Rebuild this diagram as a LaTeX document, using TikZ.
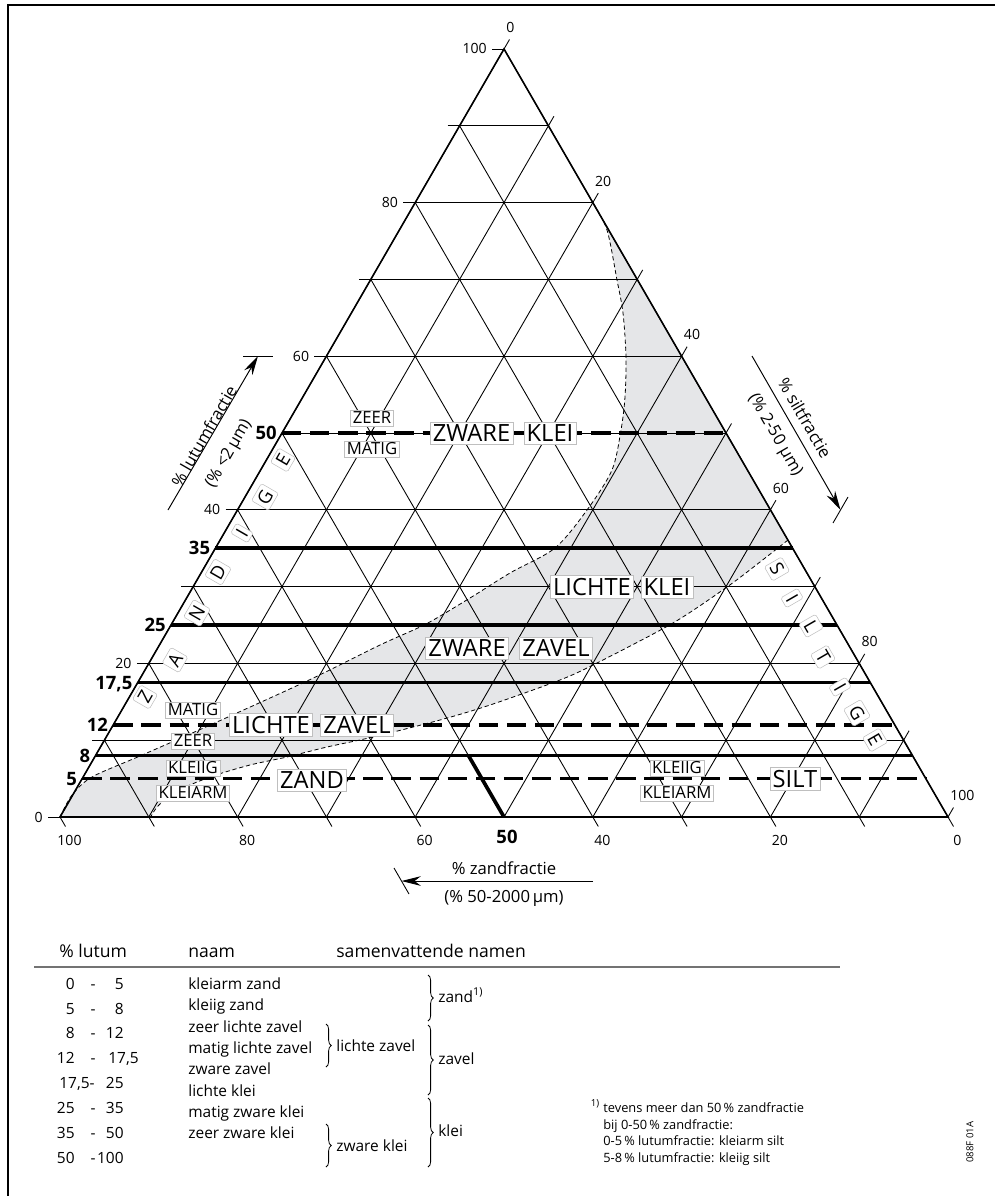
\documentclass[tikz,border=0pt]{standalone}
\usepackage{fontspec}
\setmainfont{Open Sans}
\usetikzlibrary{arrows.meta,decorations.pathreplacing}

\definecolor{bandgrijs}{RGB}{229,230,232}

\begin{document}
\begin{tikzpicture}[
    x=0.02cm, y=-0.02cm,
    raster/.style={line width=0.5pt},
    omtrek/.style={line width=0.9pt, line join=miter},
    klasse/.style={line width=2.1pt},
    klassestreep/.style={line width=2.1pt, dash pattern=on 11pt off 5pt},
    grens/.style={line width=0.45pt, dash pattern=on 2.4pt off 1.6pt},
    schaal/.style={font=\fontsize{8}{9}\selectfont, inner sep=0pt},
    vet/.style={font=\fontsize{10.5}{12}\selectfont\bfseries, inner sep=0pt},
    groot/.style={fill=white, draw=black!25, line width=0.3pt, inner sep=1.5pt, font=\fontsize{13.5}{15}\selectfont},
    klein/.style={fill=white, draw=black!25, line width=0.3pt, inner sep=1.2pt, font=\fontsize{9.5}{11}\selectfont},
    letter/.style={klein, rounded corners=1pt, inner sep=1.8pt, font=\fontsize{10.5}{12}\selectfont},
    pijl/.style={-{Stealth[length=11pt, width=5.5pt]}, line width=0.55pt},
    astekst/.style={font=\fontsize{9.5}{11}\selectfont},
    tabel/.style={font=\fontsize{8.8}{10}\selectfont, inner sep=0pt},
    kop/.style={font=\fontsize{10}{12}\selectfont, inner sep=0pt},
    noot/.style={font=\fontsize{7.3}{9}\selectfont, inner sep=0pt},
    accolade/.style={decorate, decoration={brace, amplitude=3pt}, line width=0.45pt}
]
\useasboundingbox (0,0) rectangle (995,1196);

% Frame
\draw[line width=1.1pt] (8,1196) -- (8,5) -- (995,5);

% Corners of the triangle
\coordinate (hoekZand) at (60,817);
\coordinate (hoekSilt) at (948,817);
\coordinate (hoekLutum) at (504,49);

% Grey band between the two boundary curves
\fill[bandgrijs] plot[smooth, tension=0.5] coordinates {(60,817) (72,795) (92,777) (140,756) (208,726) (307,681) (380,645) (426,624) (470,598) (510,573) (555,548) (587,510) (612,470) (621,430) (625,397) (626,357) (623,313) (617,280) (607,230) (593,203)}
  -- plot[smooth, tension=0.5] coordinates {(788,540) (760,562) (727,587) (673,623) (597,663) (560,680) (490,705) (440,720) (373,737) (327,747) (287,757) (250,765) (210,777) (175,792) (158,806) (150,818)}
  -- cycle;

% Grid, every 10 %
\foreach \k in {1,...,9}
  \draw[raster] ({60+44.4*\k},{817-76.8*\k}) -- ({948-44.4*\k},{817-76.8*\k});
\foreach \k in {0,...,10}
  \draw[raster] ({60+88.8*\k},817) -- ({509.5+44.4*\k},{39.5+76.8*\k});
\foreach \k in {0,1,2,3,4,6,7,8,9,10}
  \draw[raster] ({60+44.4*\k},{817-76.8*\k}) -- ({65.5+88.8*\k},826.5);
\draw[raster] (282,433) -- (504,817);
\foreach \k in {0,1,2,3,4,6,7,8,9,10}
  \draw[raster] ({48+44.4*\k},{817-76.8*\k}) -- ({60+44.4*\k},{817-76.8*\k});

\draw[omtrek] (hoekZand) -- (hoekSilt) -- (hoekLutum) -- cycle;

% Class boundaries (% lutum)
\foreach \c in {35,25,17.5,8}
  \draw[klasse] ({60+4.44*\c},{817-7.68*\c}) -- ({948-4.44*\c},{817-7.68*\c});
\foreach \c in {50,12,5}
  \draw[klassestreep] ({60+4.44*\c},{817-7.68*\c}) -- ({948-4.44*\c},{817-7.68*\c});
\draw[klasse] (468.5,755.6) -- (504,817);

% Boundary curves
\draw[grens] plot[smooth, tension=0.5] coordinates {(60,817) (72,795) (92,777) (140,756) (208,726) (307,681) (380,645) (426,624) (470,598) (510,573) (555,548) (587,510) (612,470) (621,430) (625,397) (626,357) (623,313) (617,280) (607,230) (593,203)};
\draw[grens] plot[smooth, tension=0.5] coordinates {(788,540) (760,562) (727,587) (673,623) (597,663) (560,680) (490,705) (440,720) (373,737) (327,747) (287,757) (250,765) (210,777) (175,792) (158,806) (150,818)};

% Scale labels
\foreach \k/\txt in {0/0,2/20,4/40,6/60,8/80,10/100}
  \node[schaal, anchor=base east] (links\k) at ({43+44.4*\k},{822-76.8*\k}) {\txt};
\foreach \k/\txt in {0/0,2/20,4/40,6/60,8/80,10/100}
  \node[schaal, anchor=base west] (rechts\k) at ({506+44.4*\k},{32.5+76.8*\k}) {\txt};
\foreach \k/\txt in {0/100,2/80,4/60,6/40,8/20,10/0}
  \node[schaal, anchor=base] (onder\k) at ({69.5+88.8*\k},845) {\txt};
\foreach \c/\txt [count=\i] in {50/50,35/35,25/25,17.5/{17,5},12/12,8/8,5/5}
  \node[vet, anchor=base east] (vet\i) at ({55+4.44*\c},{823.5-7.68*\c}) {\txt};
\node[vet, anchor=base] (vetZand) at (507,843) {50};

% Class names
\node[groot] (zkZware) at (471.5,433) {ZWARE};
\node[groot] (zkKlei) at (550,433) {KLEI};
\node[klein] (zkZeer) at (372,418) {ZEER};
\node[klein] (zkMatig) at (372,449) {MATIG};
\node[groot] (lkLichte) at (592,587) {LICHTE};
\node[groot] (lkKlei) at (667,587) {KLEI};
\node[groot] (zzZware) at (467,648) {ZWARE};
\node[groot] (zzZavel) at (556,648) {ZAVEL};
\node[groot] (lzLichte) at (271,725) {LICHTE};
\node[groot] (lzZavel) at (357,725) {ZAVEL};
\node[klein] (lzMatig) at (193,710) {MATIG};
\node[klein] (lzZeer) at (193,741) {ZEER};
\node[groot] (zaZand) at (312,780) {ZAND};
\node[klein] (zaKleiig) at (193,768) {KLEIIG};
\node[klein] (zaKleiarm) at (193,793) {KLEIARM};
\node[groot] (siSilt) at (795,779) {SILT};
\node[klein] (siKleiig) at (677,768) {KLEIIG};
\node[klein] (siKleiarm) at (677,793) {KLEIARM};

% Letters along the sides
\foreach \l/\x/\y [count=\i] in {Z/145/697, A/175/660, N/197/613, D/218/572, I/242/533, G/265/497, E/283/460}
  \node[letter, rotate=60] (zandig\i) at (\x,\y) {\l};
\foreach \l/\x/\y [count=\i] in {S/777/569, I/792/598, L/811/626, T/823/657, I/840/687, G/857/713, E/875/740}
  \node[letter, rotate=-60] (siltig\i) at (\x,\y) {\l};

% Axis arrows
\coordinate (lutVan) at (168,510);
\coordinate (lutTot) at (258,356);
\draw[pijl] (lutVan) -- (lutTot);
\draw[raster] (243,356) -- (273,356);
\node[astekst, rotate=60] (lutTekst) at (204,436) {\% lutumfractie};
\node[astekst, rotate=60] (lutMaat) at (229,454) {(\% <2\,µm)};

\coordinate (siltVan) at (752,356);
\coordinate (siltTot) at (840.5,510);
\draw[pijl] (siltVan) -- (siltTot);
\draw[raster] (833,523) -- (848,497);
\node[astekst, rotate=-60] (siltTekst) at (805,418) {\% siltfractie};
\node[astekst, rotate=-60] (siltMaat) at (775,435) {(\% 2-50 µm)};

\coordinate (zandVan) at (593,881);
\coordinate (zandTot) at (401.5,881);
\draw[pijl] (zandVan) -- (zandTot);
\draw[raster] (394,868) -- (409,894);
\node[astekst] (zandTekst) at (504,868) {\% zandfractie};
\node[astekst] (zandMaat) at (504,898) {(\% 50-2000\,µm)};

% Table
\node[kop, anchor=base west] (kopLutum) at (59,957) {\% lutum};
\node[kop, anchor=base west] (kopNaam) at (188,957) {naam};
\node[kop, anchor=base west] (kopSamen) at (336,957) {samenvattende namen};
\draw[line width=0.9pt, black!55] (34,967) -- (840,967);

\foreach \a/\b/\y/\n in {0/5/989/a, 5/8/1014/b, 8/12/1038/c, 25/35/1113/f, 35/50/1138/g, 50/100/1163/h} {
  \node[tabel, anchor=base east] (van\n) at (75,\y) {\a};
  \node[tabel, anchor=base] (streep\n) at (93,\y) {-};
  \node[tabel, anchor=base east] (tot\n) at (124,\y) {\b};
}
\node[tabel, anchor=base east] (vand) at (75,1063) {12};
\node[tabel, anchor=base] (streepd) at (93,1063) {-};
\node[tabel, anchor=base west] (totd) at (108,1063) {17,5};
\node[tabel, anchor=base west] (vane) at (59,1088) {17,5-};
\node[tabel, anchor=base east] (tote) at (124,1088) {25};

\foreach \naam [count=\i from 0] in {kleiarm zand, kleiig zand, zeer lichte zavel, matig lichte zavel, zware zavel, lichte klei, matig zware klei, zeer zware klei}
  \node[tabel, anchor=base west] (naam\i) at (188,{989.5+21.3*\i}) {\naam};

\draw[accolade] (326,1024) -- (326,1067);
\node[tabel, anchor=base west] (samLichteZavel) at (336,1051.5) {lichte zavel};
\draw[accolade] (326,1124) -- (326,1167);
\node[tabel, anchor=base west] (samZwareKlei) at (336,1151.5) {zware klei};

\draw[accolade] (428,975) -- (428,1021);
\node[tabel, anchor=base west] (samZand) at (438,1002.5) {zand\textsuperscript{1)}};
\draw[accolade] (428,1025) -- (428,1095);
\node[tabel, anchor=base west] (samZavel) at (438,1064.5) {zavel};
\draw[accolade] (428,1098) -- (428,1167);
\node[tabel, anchor=base west] (samKlei) at (438,1136.5) {klei};

% Footnote
\node[noot, font=\fontsize{5.5}{6}\selectfont] (nootTeken) at (595,1104) {1)};
\foreach \regel [count=\i from 0] in {tevens meer dan 50\,\% zandfractie, bij 0-50\,\% zandfractie:, 0-5\,\% lutumfractie: kleiarm silt, 5-8\,\% lutumfractie: kleiig silt}
  \node[noot, anchor=base west] (noot\i) at (603,{1112.5+16.7*\i}) {\regel};

\node[noot, font=\fontsize{5.5}{6}\selectfont, rotate=90] (code) at (970,1142) {088F 01A};

\end{tikzpicture}
\end{document}
